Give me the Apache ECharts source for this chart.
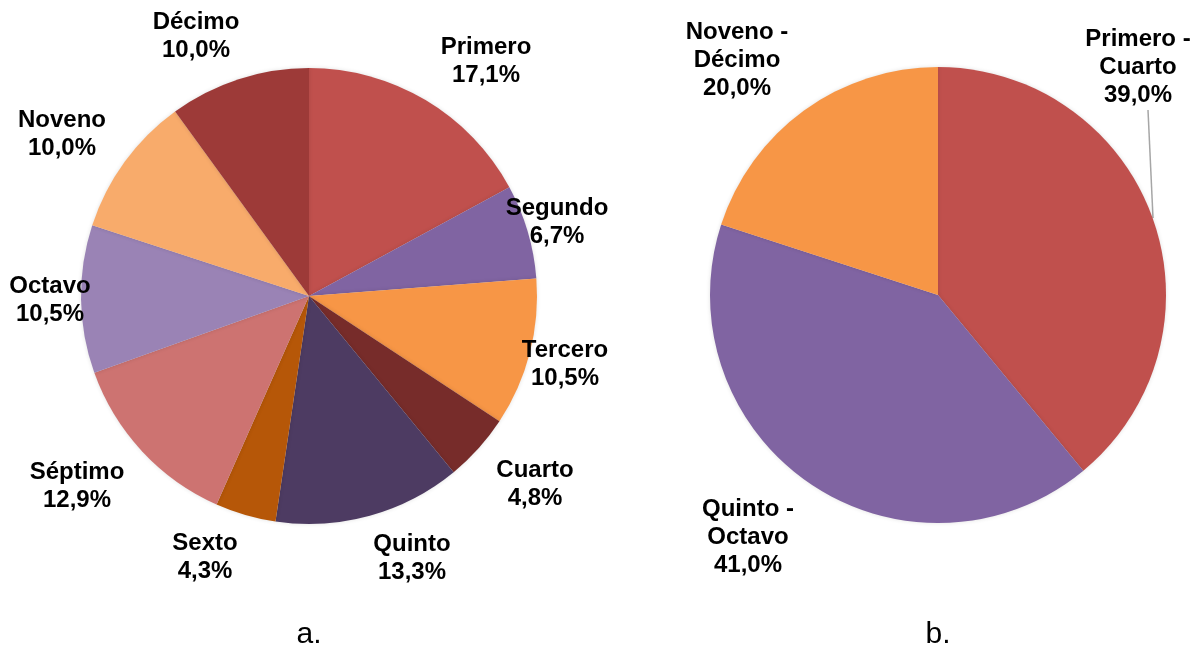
<!DOCTYPE html>
<html>
<head>
<meta charset="utf-8">
<script src="https://cdn.jsdelivr.net/npm/echarts@6/dist/echarts.min.js"></script>
<style>
html,body{margin:0;padding:0;background:#fff;}
#chart{width:1192px;height:647px;}
</style>
</head>
<body>
<div id="chart"></div>
<script>
// ---- Data ----
const categoriesA = ['Primero','Segundo','Tercero','Cuarto','Quinto','Sexto','Séptimo','Octavo','Noveno','Décimo'];
const valuesA = [17.1, 6.7, 10.5, 4.8, 13.3, 4.3, 12.9, 10.5, 10.0, 10.0];
const categoriesB = ['Primero -\nCuarto','Quinto -\nOctavo','Noveno -\nDécimo'];
const valuesB = [39.0, 41.0, 20.0];
const captions = ['a.', 'b.'];

// ---- Styles ----
const colorsA = ['#C0504D','#8064A2','#F79646','#772C2A','#4D3B62','#B65708','#CD7371','#9A83B5','#F8AB6B','#9D3A38'];
const colorsB = ['#C0504D','#8064A2','#F79646'];
// label centres (px) in the reference layout
const labelPosA = [[486,61],[557,222],[565,364],[535,484],[412,558],[205,557],[77,486],[50,300],[62,134],[196,36]];
const labelPosB = [[1138,67],[748,537],[737,60]];
const captionPos = [[309,635],[938,635]];

const fmt = v => v.toFixed(1).replace('.', ',') + '%';
const font = "'Liberation Sans', Arial, sans-serif";

const labelStyle = {
  show: true,
  position: 'outside',
  fontFamily: font,
  fontSize: 24,
  fontWeight: 'bold',
  color: '#000',
  lineHeight: 28,
  align: 'center'
};

const chart = echarts.init(document.getElementById('chart'), null, {renderer: 'canvas'});
chart.setOption({
  backgroundColor: '#fff',
  animation: false,
  graphic: captions.map((t, i) => ({
    type: 'text',
    x: captionPos[i][0],
    y: captionPos[i][1],
    style: {text: t, fontFamily: font, fontSize: 30, fontWeight: 'normal', fill: '#000',
            textAlign: 'center', textVerticalAlign: 'middle'}
  })),
  series: [
    {
      type: 'pie',
      center: [309, 296],
      radius: 228,
      startAngle: 90,
      clockwise: true,
      avoidLabelOverlap: false,
      itemStyle: {borderWidth: 0, shadowBlur: 4, shadowColor: 'rgba(0,0,0,0.12)'},
      emphasis: {disabled: true},
      label: Object.assign({}, labelStyle, {
        formatter: p => p.name + '\n' + fmt(p.value)
      }),
      labelLine: {show: false},
      labelLayout: p => ({x: labelPosA[p.dataIndex][0], y: labelPosA[p.dataIndex][1], align: 'center', verticalAlign: 'middle'}),
      data: categoriesA.map((c, i) => ({name: c, value: valuesA[i], itemStyle: {color: colorsA[i]}}))
    },
    {
      type: 'pie',
      center: [938, 295],
      radius: 228,
      startAngle: 90,
      clockwise: true,
      avoidLabelOverlap: false,
      itemStyle: {borderWidth: 0, shadowBlur: 4, shadowColor: 'rgba(0,0,0,0.12)'},
      emphasis: {disabled: true},
      label: Object.assign({}, labelStyle, {
        formatter: p => p.name + '\n' + fmt(p.value)
      }),
      labelLine: {show: false},
      labelLayout: p => {
        const o = {x: labelPosB[p.dataIndex][0], y: labelPosB[p.dataIndex][1], align: 'center', verticalAlign: 'middle'};
        if (p.dataIndex === 0) o.labelLinePoints = [[1153, 218], [1148, 110], [1148, 110]];
        return o;
      },
      data: categoriesB.map((c, i) => ({
        name: c, value: valuesB[i], itemStyle: {color: colorsB[i]},
        labelLine: i === 0 ? {show: true, lineStyle: {color: '#A6A6A6', width: 1.5}} : {show: false}
      }))
    }
  ]
});
</script>
</body>
</html>
